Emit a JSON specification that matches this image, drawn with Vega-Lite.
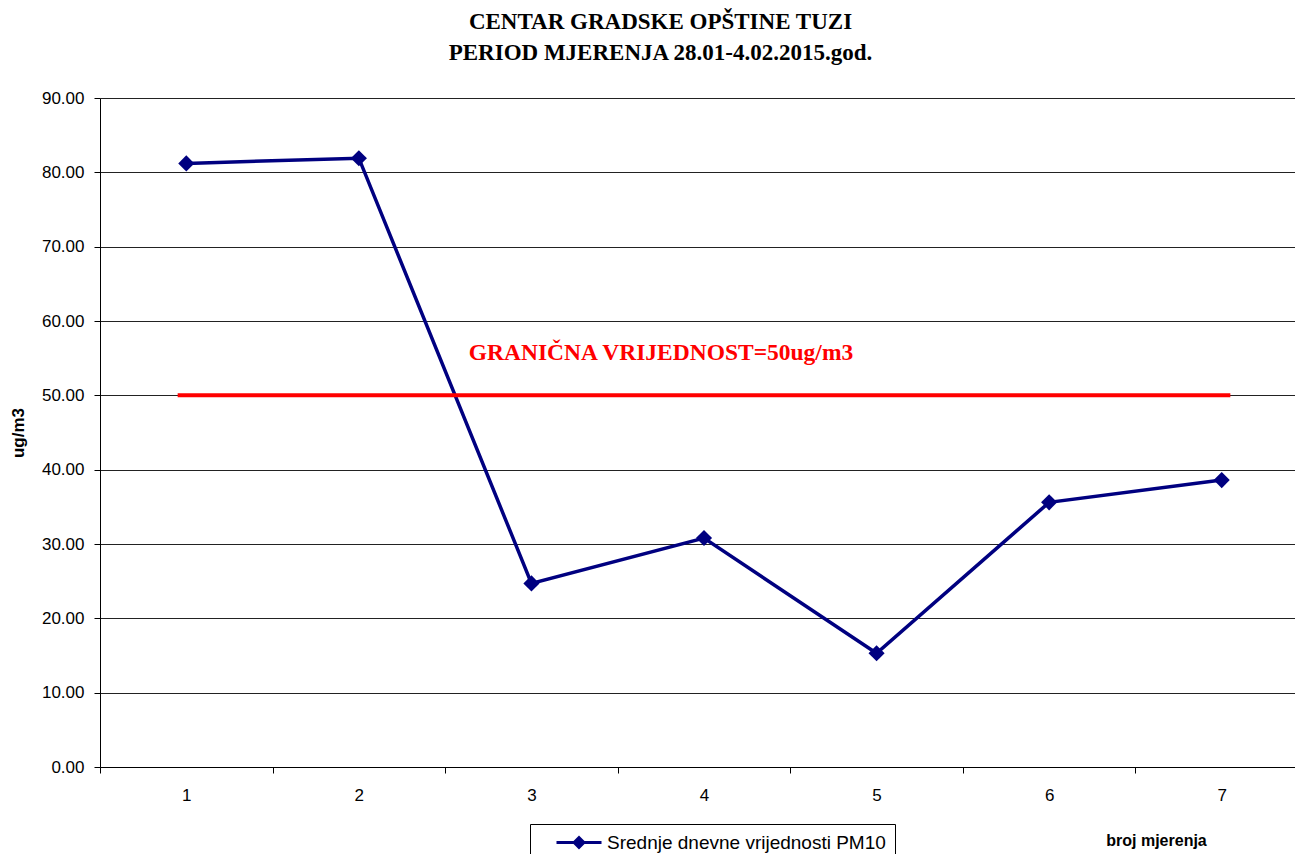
{
  "$schema": "https://vega.github.io/schema/vega-lite/v6.json",
  "autosize": "none",
  "width": 1195,
  "height": 669,
  "padding": {"left": 100, "top": 98, "right": 0, "bottom": 87},
  "background": "white",
  "title": {
    "text": ["CENTAR GRADSKE OPŠTINE TUZI", "PERIOD MJERENJA 28.01-4.02.2015.god."],
    "font": "Liberation Serif",
    "fontSize": 23,
    "fontWeight": "bold",
    "color": "black",
    "lineHeight": 31,
    "anchor": "middle",
    "frame": "group",
    "baseline": "top",
    "offset": 24,
    "dx": -37
  },
  "config": {
    "view": {"stroke": null},
    "axis": {
      "labelFont": "Liberation Sans",
      "labelFontSize": 17,
      "labelColor": "black",
      "titleFont": "Liberation Sans",
      "titleFontSize": 17,
      "titleFontWeight": "bold",
      "titleColor": "black",
      "domainColor": "black",
      "tickColor": "black",
      "tickSize": 6
    }
  },
  "layer": [
    {
      "data": {
        "values": [
          {"n": "1", "v": 81.2, "s": "Srednje dnevne vrijednosti PM10"},
          {"n": "2", "v": 81.9, "s": "Srednje dnevne vrijednosti PM10"},
          {"n": "3", "v": 24.7, "s": "Srednje dnevne vrijednosti PM10"},
          {"n": "4", "v": 30.8, "s": "Srednje dnevne vrijednosti PM10"},
          {"n": "5", "v": 15.3, "s": "Srednje dnevne vrijednosti PM10"},
          {"n": "6", "v": 35.6, "s": "Srednje dnevne vrijednosti PM10"},
          {"n": "7", "v": 38.6, "s": "Srednje dnevne vrijednosti PM10"}
        ]
      },
      "mark": {
        "type": "line",
        "strokeWidth": 3.5,
        "point": {"shape": "diamond", "size": 260, "filled": true, "opacity": 1}
      },
      "encoding": {
        "x": {
          "field": "n",
          "type": "ordinal",
          "scale": {"type": "band", "paddingInner": 0, "paddingOuter": 0, "range": [0, 1208]},
          "axis": {
            "title": "broj mjerenja",
            "labelAngle": 0,
            "tickBand": "extent",
            "labelPadding": 14,
            "titleFontSize": 16,
            "titleX": 1056,
            "titleY": 73,
            "titleAlign": "center",
            "titleBaseline": "middle",
            "titleAngle": 0
          }
        },
        "y": {
          "field": "v",
          "type": "quantitative",
          "scale": {"domain": [0, 90], "nice": false},
          "axis": {
            "title": "ug/m3",
            "values": [0, 10, 20, 30, 40, 50, 60, 70, 80, 90],
            "format": ".2f",
            "grid": true,
            "gridColor": "#222",
            "gridWidth": 1,
            "gridOpacity": 1,
            "labelPadding": 10,
            "titlePadding": 14
          }
        },
        "color": {
          "field": "s",
          "type": "nominal",
          "scale": {"range": ["#000080"]},
          "legend": {
            "title": null,
            "orient": "none",
            "legendX": 430,
            "legendY": 726,
            "strokeColor": "black",
            "padding": 9,
            "symbolOffset": 30.5,
            "symbolType": "M-3,-0.2L3,-0.2L3,0.2L-3,0.2ZM0,-0.93L0.93,0L0,0.93L-0.93,0Z",
            "symbolSize": 225,
            "symbolStrokeWidth": 0,
            "labelFont": "Liberation Sans",
            "labelFontSize": 19,
            "labelLimit": 0,
            "labelColor": "black",
            "labelOffset": 18.5,
            "encode": {
              "symbols": {
                "update": {
                  "fill": {"value": "#000080"},
                  "opacity": {"value": 1},
                  "fillOpacity": {"value": 1}
                }
              }
            }
          }
        }
      }
    },
    {
      "data": {"values": [{"a": "1", "b": "7", "g": 50}]},
      "mark": {"type": "rule", "color": "#ff0000", "strokeWidth": 4},
      "encoding": {
        "x": {"field": "a", "type": "ordinal", "bandPosition": 0.45},
        "x2": {"field": "b", "bandPosition": 0.55},
        "y": {"field": "g", "type": "quantitative"}
      }
    },
    {
      "data": {"values": [{"n": "4", "v": 55.7, "t": "GRANIČNA VRIJEDNOST=50ug/m3"}]},
      "mark": {
        "type": "text",
        "font": "Liberation Serif",
        "fontSize": 23.5,
        "fontWeight": "bold",
        "color": "#ff0000",
        "align": "center",
        "baseline": "middle",
        "dx": -43
      },
      "encoding": {
        "x": {"field": "n", "type": "ordinal"},
        "y": {"field": "v", "type": "quantitative"},
        "text": {"field": "t"}
      }
    }
  ]
}
